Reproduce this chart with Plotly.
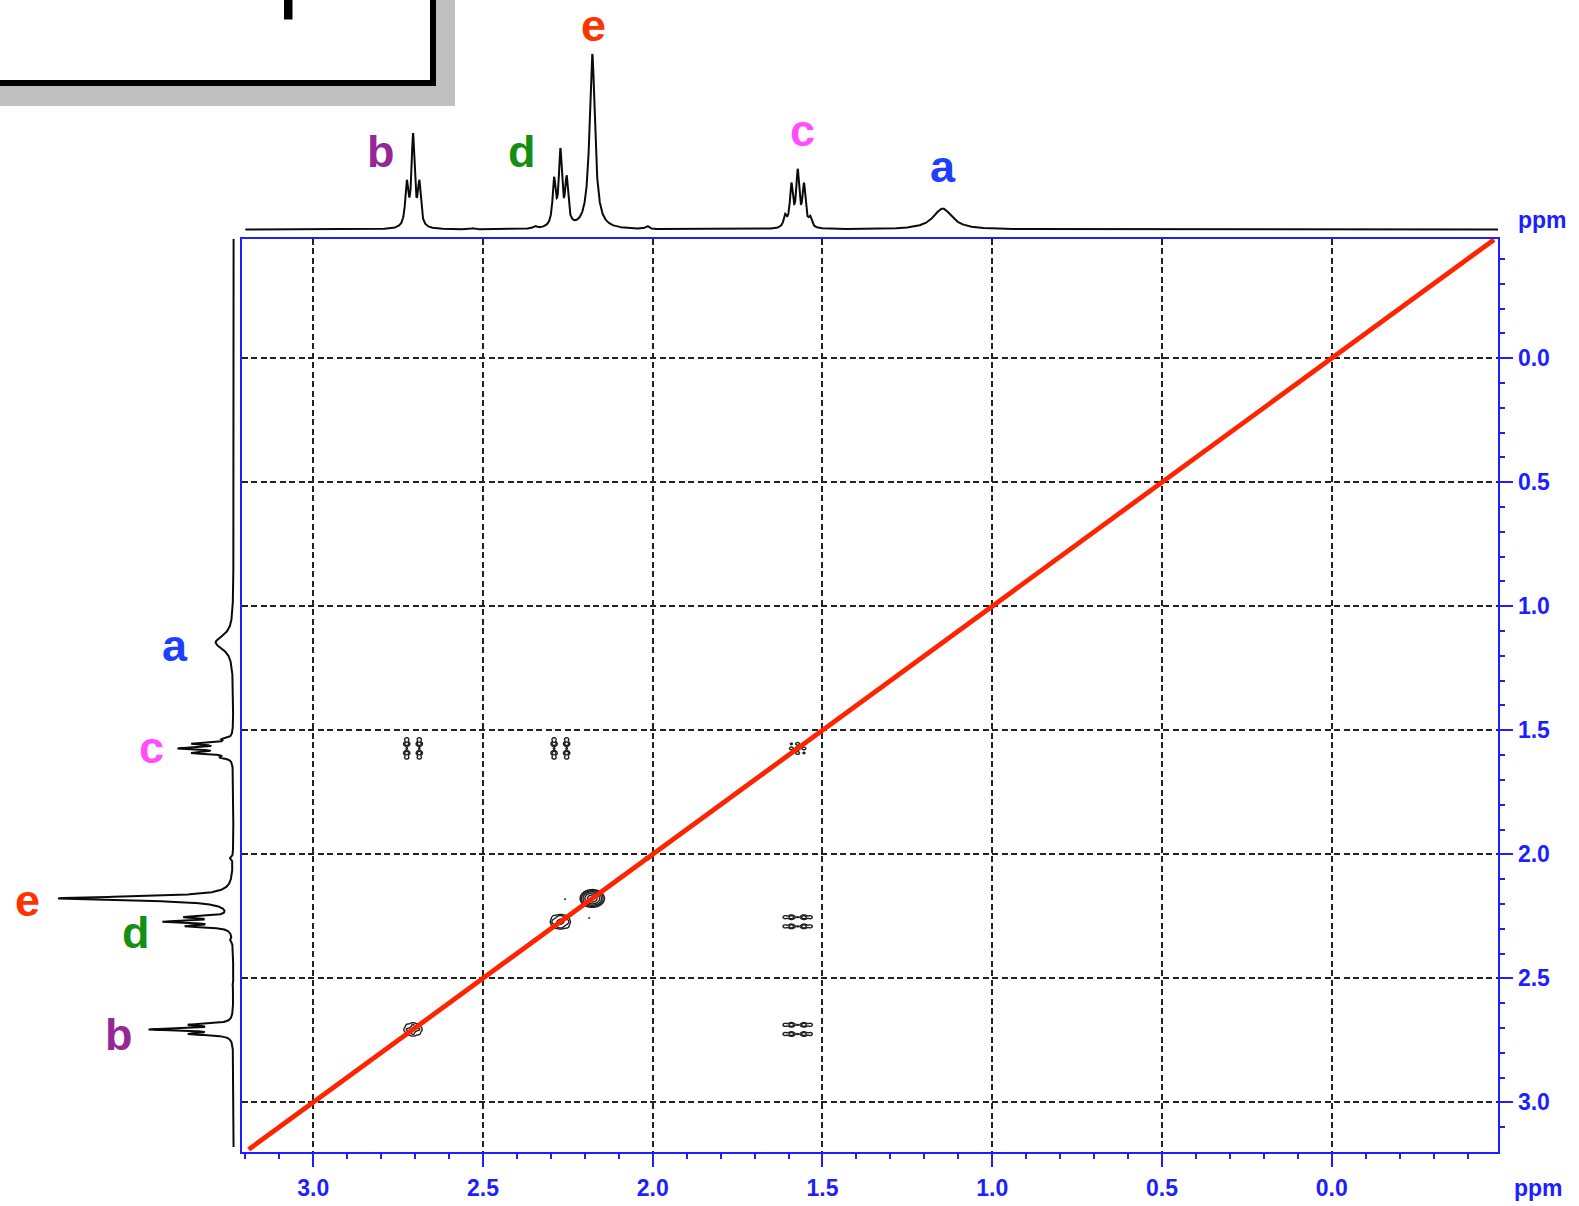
import numpy as np
import plotly.graph_objects as go

W, H = 1579, 1206

# ---- 1H multiplets: shift (ppm), Lorentzian half width (ppm) ----
peak_labels = ["a", "b", "c", "d", "e"]
peak_shift = [1.146, 2.706, 1.573, 2.272, 2.178]
peak_hwhm = [0.034, 0.0053, 0.0053, 0.0053, 0.0095]
j_coupling = 0.0185  # ppm, ~7.4 Hz at 400 MHz
# line intensities of each multiplet, low ppm -> high ppm
f2_line_amps = [[21], [42, 90, 42], [9, 41, 54, 41, 11], [45, 73, 45], [175]]
f1_line_amps = [[18], [39, 79, 39], [8, 37, 50, 37, 10], [42, 63, 42], [175]]
label_colors = ["#1f3fff", "#962896", "#ff4dff", "#139013", "#ff3300"]

# weak impurity lines in the 1D traces
minor_shift = [2.530, 2.347, 2.016]
minor_amp = [1.0, 2.2, 3.0]
minor_hwhm = 0.006

# ---- COSY peaks: F2 multiplet, F1 multiplet, volume, width (ppm) ----
cosy_f2 = ["b", "d", "c", "c", "b", "d", "e", "c"]
cosy_f1 = ["c", "c", "b", "d", "b", "d", "e", "c"]
cosy_amp = [1.0, 1.0, 1.0, 1.0, 1.1, 1.6, 8.0, 0.8]
cosy_sigma = [0.006, 0.006, 0.006, 0.006, 0.0075, 0.0078, 0.014, 0.005]
# multiplet line weights: antiphase (cross peaks) and in-phase (diagonal)
cross_weights = [[1], [1, 0, 1], [1, 2, 0.6, 2, 1], [1, 0, 1], [1]]
diag_weights = [[1], [1, 2, 1], [1, 4, 6, 4, 1], [1, 2, 1], [1]]

# weak diagonal spots and t1 noise
spot_x = [2.347, 2.016, 2.258, 2.187]
spot_y = [2.347, 2.016, 2.181, 2.256]
spot_amp = [0.55, 0.55, 0.36, 0.36]
spot_sigma = [0.005, 0.006, 0.002, 0.002]

contour_floor = 0.3
contour_levels = 5

# ---- axes ----
x_range = [3.2106, -0.4907]
y_range = [3.199, -0.482]
tick_vals = [3.0, 2.5, 2.0, 1.5, 1.0, 0.5, 0.0]
tick_text = ["3.0", "2.5", "2.0", "1.5", "1.0", "0.5", "0.0"]
minor_vals = [round(v, 1) for v in np.arange(-0.4, 3.25, 0.1)]
diag_line = [3.19, -0.478]

BLUE = "#1e1eff"
FONT = "Liberation Sans, Arial, Helvetica, sans-serif"


def line_positions(i, n):
    return [peak_shift[i] + (k - (n - 1) / 2) * j_coupling for k in range(n)]


def spectrum(ppm, amps_list):
    s = np.zeros_like(ppm)
    for i, amps in enumerate(amps_list):
        for pos, a in zip(line_positions(i, len(amps)), amps):
            s += a / (1 + ((ppm - pos) / peak_hwhm[i]) ** 2)
    for pos, a in zip(minor_shift, minor_amp):
        s += a / (1 + ((ppm - pos) / minor_hwhm) ** 2)
    return s


ppm_axis = np.arange(3.20, -0.49, -0.0005)
f2_trace = spectrum(ppm_axis, f2_line_amps)
ppm_axis_f1 = np.arange(3.18, -0.482, -0.0005)
f1_trace = spectrum(ppm_axis_f1, f1_line_amps)

# 2D components: (x, y, amplitude, sigma)
components = []
windows = []
for f2, f1, amp, sg in zip(cosy_f2, cosy_f1, cosy_amp, cosy_sigma):
    i2, i1 = peak_labels.index(f2), peak_labels.index(f1)
    src = diag_weights if f2 == f1 else cross_weights
    w2 = np.array(src[i2], float) / max(src[i2])
    w1 = np.array(src[i1], float) / max(src[i1])
    for a, xx in zip(w2, line_positions(i2, len(w2))):
        for b, yy in zip(w1, line_positions(i1, len(w1))):
            if a * b > 0:
                components.append((xx, yy, amp * a * b, sg))
    windows.append((peak_shift[i2], peak_shift[i1], 0.065))
for sx, sy, a, sg in zip(spot_x, spot_y, spot_amp, spot_sigma):
    components.append((sx, sy, a, sg))
    windows.append((sx, sy, 0.015))


def surface(X, Y):
    s = np.zeros_like(X)
    for xx, yy, a, sg in components:
        s += a * np.exp(-((X - xx) ** 2 + (Y - yy) ** 2) / (2 * sg * sg))
    return s


fig = go.Figure()

for cx, cy, half in windows:
    step = 0.0012 if half > 0.02 else 0.0006
    xs = np.arange(cx - half, cx + half + step / 2, step)
    ys = np.arange(cy - half, cy + half + step / 2, step)
    X, Y = np.meshgrid(xs, ys)
    z = np.log2(np.maximum(surface(X, Y), 1e-6) / contour_floor)
    fig.add_trace(go.Contour(
        x=np.round(xs, 5), y=np.round(ys, 5), z=np.round(z, 3),
        contours=dict(start=0, end=contour_levels - 1, size=1, coloring="lines"),
        colorscale=[[0, "#1e1e1e"], [1, "#1e1e1e"]],
        line=dict(width=1.4), showscale=False, hoverinfo="skip",
        xaxis="x", yaxis="y"))

# diagonal
fig.add_trace(go.Scatter(x=diag_line, y=diag_line, mode="lines",
                         line=dict(color="#ff2400", width=4.8),
                         hoverinfo="skip", xaxis="x", yaxis="y"))

# F2 projection (top)
fig.add_trace(go.Scatter(x=ppm_axis, y=np.round(f2_trace, 2), mode="lines",
                         line=dict(color="#0a0a0a", width=2.0),
                         hoverinfo="skip", xaxis="x2", yaxis="y2"))
# F1 projection (left)
fig.add_trace(go.Scatter(x=np.round(f1_trace, 2), y=ppm_axis_f1, mode="lines",
                         line=dict(color="#0a0a0a", width=2.0),
                         hoverinfo="skip", xaxis="x3", yaxis="y3"))

x_dom = [241.7 / W, 1498.3 / W]
y_dom = [1 - 1151.7 / H, 1 - 238.7 / H]
tick_font = dict(family=FONT, size=23, color=BLUE, weight="bold")
grid = dict(showgrid=True, gridcolor="#222222", gridwidth=1.8, griddash="6px,3.5px")

fig.update_layout(
    width=W, height=H, margin=dict(l=0, r=0, t=0, b=0), autosize=False,
    paper_bgcolor="white", plot_bgcolor="white", showlegend=False,
    xaxis=dict(domain=x_dom, range=x_range, anchor="y", tickmode="array",
               tickvals=tick_vals, ticktext=tick_text, ticks="outside",
               ticklen=13, tickwidth=2, tickcolor=BLUE, tickfont=tick_font,
               ticklabelstandoff=2,
               showline=True, linecolor=BLUE, linewidth=2, mirror=True,
               zeroline=False,
               minor=dict(tickmode="array", tickvals=minor_vals, ticks="outside",
                          ticklen=5, tickwidth=1.5, tickcolor=BLUE, showgrid=False),
               **grid),
    yaxis=dict(domain=y_dom, range=y_range, anchor="x", side="right",
               tickmode="array", tickvals=tick_vals, ticktext=tick_text,
               ticks="outside", ticklen=13, tickwidth=2, tickcolor=BLUE,
               tickfont=tick_font, showline=True, linecolor=BLUE,
               linewidth=2, mirror=True, zeroline=False,
               minor=dict(tickmode="array", tickvals=minor_vals, ticks="outside",
                          ticklen=5, tickwidth=1.5, tickcolor=BLUE, showgrid=False),
               **grid),
    xaxis2=dict(domain=x_dom, range=x_range, anchor="y2", visible=False),
    yaxis2=dict(domain=[1 - 238 / H, 1], range=[-8.4, 229.6], anchor="x2",
                visible=False),
    xaxis3=dict(domain=[0, 241 / W], range=[233.6, -7.4], anchor="y3",
                visible=False),
    yaxis3=dict(domain=y_dom, range=y_range, anchor="x3", visible=False),
)

# peak letters (pixel centre x, baseline y)
label_font_size = 45
top_label_px = [(942.6, 182), (380.5, 167), (802, 146), (521.7, 167), (593.7, 41.5)]
left_label_px = [(175, 661), (151.7, 763), (135.8, 948), (119, 1050), (27.5, 916)]
left_order = ["a", "c", "d", "b", "e"]
annotations = []
for lab, (px, base) in zip(peak_labels, top_label_px):
    c = label_colors[peak_labels.index(lab)]
    annotations.append(dict(x=px / W, y=1 - (base - 0.3465 * label_font_size) / H,
                            xref="paper", yref="paper", text=lab, showarrow=False,
                            xanchor="center", yanchor="middle",
                            font=dict(family=FONT, size=label_font_size, color=c,
                                      weight="bold")))
for lab, (px, base) in zip(left_order, left_label_px):
    c = label_colors[peak_labels.index(lab)]
    annotations.append(dict(x=px / W, y=1 - (base - 0.3465 * label_font_size) / H,
                            xref="paper", yref="paper", text=lab, showarrow=False,
                            xanchor="center", yanchor="middle",
                            font=dict(family=FONT, size=label_font_size, color=c,
                                      weight="bold")))
for px, py in [(1538, 1188), (1542, 220)]:
    annotations.append(dict(x=px / W, y=1 - py / H, xref="paper", yref="paper",
                            text="ppm", showarrow=False, xanchor="center",
                            yanchor="middle", font=tick_font))
fig.update_layout(annotations=annotations)

# structure frame in the upper left corner
fig.update_layout(shapes=[
    dict(type="rect", xref="paper", yref="paper", x0=-20 / W, x1=455 / W,
         y0=1 - 106 / H, y1=1 + 20 / H, fillcolor="#c0c0c0", line=dict(width=0),
         layer="above"),
    dict(type="rect", xref="paper", yref="paper", x0=-20 / W, x1=433 / W,
         y0=1 - 83 / H, y1=1 + 20 / H, fillcolor="white",
         line=dict(color="black", width=6), layer="above"),
    dict(type="rect", xref="paper", yref="paper", x0=284 / W, x1=292.5 / W,
         y0=1 - 19.5 / H, y1=1 + 5 / H, fillcolor="black", line=dict(width=0),
         layer="above"),
])

fig.write_html("out.html", config={"displayModeBar": False})
